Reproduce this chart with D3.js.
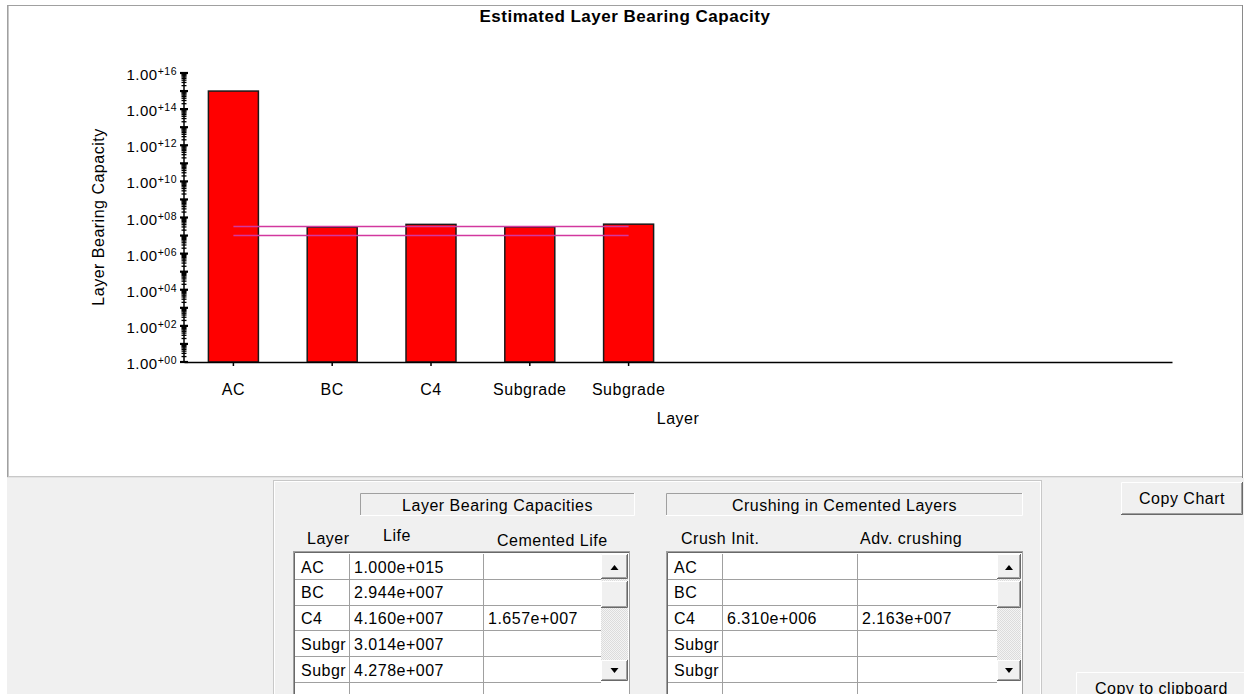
<!DOCTYPE html>
<html>
<head>
<meta charset="utf-8">
<script src="https://cdn.jsdelivr.net/npm/d3@7"></script>
<style>
  html, body { margin: 0; padding: 0; background: #fff; overflow: hidden; }
  svg { display: block; font-family: "Liberation Sans", Arial, sans-serif; }
  text { letter-spacing: 0.5px; }
</style>
</head>
<body>
<script>
// ---- data ----
const layers        = ["AC", "BC", "C4", "Subgrade", "Subgrade"];
const life          = [1.000e15, 2.944e7, 4.160e7, 3.014e7, 4.278e7];
const cementedLife  = [null, null, 1.657e7, null, null];
const crushInit     = [null, null, 6.310e6, null, null];
const advCrushing   = [null, null, 2.163e7, null, null];
const referenceLevels = [3.2e7, 1.0e7];
const slotCount     = 10;                      // category slots along the x axis
const yDecades      = d3.range(0, 17);         // 10^0 .. 10^16
const yLabelExps    = d3.range(0, 17, 2);      // labelled decades

const W = 1244, H = 694;
const svg = d3.select("body").append("svg").attr("width", W).attr("height", H);

// ---- window background ----
svg.append("rect").attr("width", W).attr("height", H).attr("fill", "#fff");
svg.append("rect").attr("x", 7).attr("y", 478).attr("width", W - 7).attr("height", H - 478).attr("fill", "#f0f0f0");

// chart panel frame
const frame = svg.append("g").attr("fill", "none");
frame.append("line").attr("x1", 7).attr("x2", 1243).attr("y1", 5.5).attr("y2", 5.5).attr("stroke", "#a0a0a0");
frame.append("line").attr("x1", 7.5).attr("x2", 7.5).attr("y1", 5).attr("y2", 478).attr("stroke", "#a0a0a0");
frame.append("line").attr("x1", 8.5).attr("x2", 8.5).attr("y1", 6).attr("y2", 477).attr("stroke", "#c8c8c8");
frame.append("line").attr("x1", 8).attr("x2", 1243).attr("y1", 476.5).attr("y2", 476.5).attr("stroke", "#c8c8c8");
frame.append("line").attr("x1", 7).attr("x2", 1243).attr("y1", 477.5).attr("y2", 477.5).attr("stroke", "#e3e3e3");
frame.append("line").attr("x1", 1242.5).attr("x2", 1242.5).attr("y1", 5).attr("y2", 478).attr("stroke", "#8a8a8a");

// ---- scales ----
const y = d3.scaleLog().domain([1, 1e16]).range([362, 73]);
const x = d3.scaleBand().domain(d3.range(slotCount)).range([184, 1172])
  .paddingInner(0.494).paddingOuter(0.247);
const bw = x.bandwidth();

// ---- bars ----
svg.append("g").selectAll("rect").data(life).join("rect")
  .attr("x", (d, i) => x(i))
  .attr("y", d => y(d))
  .attr("width", bw)
  .attr("height", d => y(1) - y(d))
  .attr("fill", "#ff0000")
  .attr("stroke", "#1a1a1a")
  .attr("stroke-width", 1.5);

// ---- x axis ----
const xAxisG = svg.append("g").attr("transform", "translate(0,362)")
  .call(d3.axisBottom(x)
    .tickValues(d3.range(layers.length))
    .tickFormat(i => layers[i])
    .tickSize(4).tickPadding(18).tickSizeOuter(0));
xAxisG.attr("font-family", null).attr("font-size", 16);
xAxisG.select(".domain").attr("stroke", "#000").attr("stroke-width", 1.5);
xAxisG.selectAll(".tick line").attr("stroke", "#000").attr("stroke-width", 1.5);
xAxisG.selectAll(".tick text").attr("fill", "#000");

// ---- y axis (log, with minor ticks) ----
const yAxisG = svg.append("g");
yAxisG.append("line")
  .attr("x1", 184).attr("x2", 184)
  .attr("y1", y(1e16)).attr("y2", y(1))
  .attr("stroke", "#000").attr("stroke-width", 1.5);
const minorVals = [];
d3.range(0, 16).forEach(e => d3.range(2, 10).forEach(k => minorVals.push(k * Math.pow(10, e))));
yAxisG.selectAll("line.minor").data(minorVals).join("line").attr("class", "minor")
  .attr("x1", 181.5).attr("x2", 186.5)
  .attr("y1", d => y(d)).attr("y2", d => y(d))
  .attr("stroke", "#000").attr("stroke-width", 1.3);
yAxisG.selectAll("line.major").data(yDecades).join("line").attr("class", "major")
  .attr("x1", 180).attr("x2", 188)
  .attr("y1", e => y(Math.pow(10, e))).attr("y2", e => y(Math.pow(10, e)))
  .attr("stroke", "#000").attr("stroke-width", 2.2);
const yLab = yAxisG.selectAll("text").data(yLabelExps).join("text")
  .attr("x", 177).attr("y", e => y(Math.pow(10, e)) + 7)
  .attr("text-anchor", "end").attr("fill", "#000");
yLab.append("tspan").attr("font-size", 15).text("1.00");
yLab.append("tspan").attr("font-size", 10.5).attr("dy", -5)
  .text(e => "+" + String(e).padStart(2, "0"));

// ---- reference levels ----
svg.append("g").selectAll("line").data(referenceLevels).join("line")
  .attr("x1", x(0) + bw / 2).attr("x2", x(layers.length - 1) + bw / 2)
  .attr("y1", d => y(d)).attr("y2", d => y(d))
  .attr("stroke", "#d2389f").attr("stroke-width", 1.6);

// ---- titles ----
svg.append("text").attr("x", 625).attr("y", 22).attr("text-anchor", "middle")
  .attr("font-size", 17).attr("font-weight", "bold").text("Estimated Layer Bearing Capacity");
svg.append("text").attr("transform", "translate(104,217) rotate(-90)").attr("text-anchor", "middle")
  .attr("font-size", 16).text("Layer Bearing Capacity");
svg.append("text").attr("x", 678).attr("y", 424).attr("text-anchor", "middle")
  .attr("font-size", 16).text("Layer");

// ---- dialog controls ----
function fmtSci(v) {
  if (v == null) return "";
  const [m, e] = v.toExponential(3).split("e");
  return m + "e" + e[0] + String(Math.abs(+e)).padStart(3, "0");
}

const ui = svg.append("g").attr("font-size", 16).attr("fill", "#000");

function raised(g, bx, by, w, h) {
  g.append("rect").attr("x", bx).attr("y", by).attr("width", w).attr("height", h).attr("fill", "#f0f0f0");
  g.append("path").attr("d", `M${bx + 0.5},${by + h}V${by + 0.5}H${bx + w}`).attr("stroke", "#fff").attr("fill", "none");
  g.append("path").attr("d", `M${bx},${by + h - 0.5}H${bx + w - 0.5}V${by}`).attr("stroke", "#696969").attr("fill", "none");
  g.append("path").attr("d", `M${bx + 1},${by + h - 1.5}H${bx + w - 1.5}V${by + 1}`).attr("stroke", "#a0a0a0").attr("fill", "none");
}

function sunkenLabel(g, bx, by, w, h, label) {
  g.append("path").attr("d", `M${bx + 0.5},${by + h}V${by + 0.5}H${bx + w}`).attr("stroke", "#a0a0a0").attr("fill", "none");
  g.append("path").attr("d", `M${bx},${by + h - 0.5}H${bx + w - 0.5}V${by}`).attr("stroke", "#fff").attr("fill", "none");
  g.append("text").attr("x", bx + w / 2).attr("y", by + h / 2 + 6).attr("text-anchor", "middle").text(label);
}

// hatched scrollbar track
const defs = svg.append("defs");
const pat = defs.append("pattern").attr("id", "track").attr("width", 2).attr("height", 2)
  .attr("patternUnits", "userSpaceOnUse");
pat.append("rect").attr("width", 2).attr("height", 2).attr("fill", "#f4f4f4");
pat.append("rect").attr("width", 1).attr("height", 1).attr("fill", "#dcdcdc");
pat.append("rect").attr("x", 1).attr("y", 1).attr("width", 1).attr("height", 1).attr("fill", "#dcdcdc");

// group box
ui.append("rect").attr("x", 273.5).attr("y", 480.5).attr("width", 768).attr("height", 240)
  .attr("fill", "none").attr("stroke", "#c8c8c8");
ui.append("rect").attr("x", 274.5).attr("y", 481.5).attr("width", 766).attr("height", 240)
  .attr("fill", "none").attr("stroke", "#fff");

const rowTop = 554, rowH = 25.8, nRows = 6;

// shorten a cell's text to the characters that fit in its column
function fitText(sel, maxW) {
  sel.each(function () {
    const t = d3.select(this);
    let s = t.text();
    while (s.length > 1 && this.getComputedTextLength() > maxW) {
      s = s.slice(0, -1);
      t.text(s);
    }
  });
}

function grid(id, left, right, edges, sbLeft, columns) {
  const g = ui.append("g");
  g.append("rect").attr("x", left + 0.5).attr("y", 551.5).attr("width", right - left).attr("height", 200)
    .attr("fill", "#fff").attr("stroke", "#a0a0a0");
  g.append("path").attr("d", `M${left + 1.5},700V552.5H${right}`).attr("stroke", "#696969").attr("fill", "none");
  // row separators
  d3.range(1, nRows + 1).forEach(r => {
    const yy = Math.round(rowTop + r * rowH) - 0.5;
    g.append("line").attr("x1", left + 2).attr("x2", sbLeft).attr("y1", yy).attr("y2", yy).attr("stroke", "#a0a0a0");
  });
  // column separators
  edges.slice(1).forEach(ex => {
    g.append("line").attr("x1", ex + 0.5).attr("x2", ex + 0.5).attr("y1", rowTop).attr("y2", 700).attr("stroke", "#a0a0a0");
  });
  // cells, clipped to their column
  columns.forEach((col, c) => {
    const cx0 = edges[c], cx1 = c + 1 < edges.length ? edges[c + 1] : sbLeft;
    const cid = `${id}-c${c}`;
    defs.append("clipPath").attr("id", cid).append("rect")
      .attr("x", cx0).attr("y", rowTop).attr("width", cx1 - cx0 - 1).attr("height", 150);
    g.append("g").attr("clip-path", `url(#${cid})`).selectAll("text").data(col).join("text")
      .attr("x", cx0 + 5)
      .attr("y", (d, r) => rowTop + r * rowH + 18.5)
      .text(d => d)
      .call(fitText, cx1 - cx0 - 6);
  });
  // scrollbar
  const sw = right - 1 - sbLeft;
  g.append("rect").attr("x", sbLeft).attr("y", rowTop).attr("width", sw).attr("height", 127).attr("fill", "url(#track)");
  raised(g, sbLeft, rowTop, sw, 25);
  raised(g, sbLeft, 581, sw, 27);
  raised(g, sbLeft, 660, sw, 21);
  const cx = sbLeft + sw / 2;
  g.append("path").attr("d", `M${cx - 4},${570}L${cx + 4},${570}L${cx},${565}Z`).attr("fill", "#000");
  g.append("path").attr("d", `M${cx - 4},${668}L${cx + 4},${668}L${cx},${673}Z`).attr("fill", "#000");
}

// Layer bearing capacities
sunkenLabel(ui, 360, 493, 275, 23, "Layer Bearing Capacities");
ui.append("text").attr("x", 307).attr("y", 544).text("Layer");
ui.append("text").attr("x", 383).attr("y", 541).text("Life");
ui.append("text").attr("x", 497).attr("y", 546).text("Cemented Life");
grid("lbc", 293, 629, [296, 349, 483], 601, [
  layers,
  life.map(fmtSci),
  cementedLife.map(fmtSci)
]);

// Crushing in cemented layers
sunkenLabel(ui, 666, 493, 357, 23, "Crushing in Cemented Layers");
ui.append("text").attr("x", 681).attr("y", 544).text("Crush Init.");
ui.append("text").attr("x", 860).attr("y", 544).text("Adv. crushing");
grid("cru", 666, 1022, [669, 722, 857], 997, [
  layers,
  crushInit.map(fmtSci),
  advCrushing.map(fmtSci)
]);

// buttons
const b1 = ui.append("g");
raised(b1, 1121, 482, 122, 33);
b1.append("text").attr("x", 1182).attr("y", 504).attr("text-anchor", "middle").text("Copy Chart");
const b2 = ui.append("g");
raised(b2, 1076, 672, 200, 40);
b2.append("text").attr("x", 1095).attr("y", 694).text("Copy to clipboard");
</script>
</body>
</html>
